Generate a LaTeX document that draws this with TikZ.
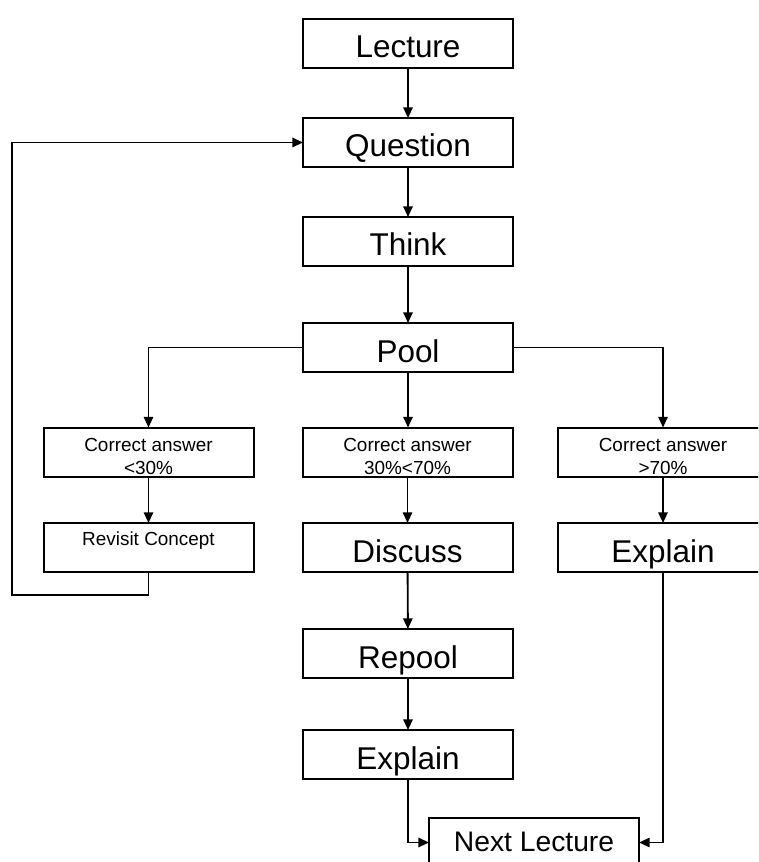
\documentclass[tikz,border=0pt]{standalone}
\usepackage{fontspec}
\setmainfont{Liberation Sans}
\usetikzlibrary{arrows.meta,calc}

\begin{document}
\begin{tikzpicture}[x=0.75pt,y=-0.75pt,
  box/.style={draw, line width=1.5pt, minimum width=157.5pt, minimum height=36.75pt,
              inner sep=0pt, outer sep=0pt},
  bigtxt/.style={font=\fontsize{23.6}{28}\selectfont, inner sep=0pt, anchor=base},
  midtxt/.style={font=\fontsize{21.2}{25}\selectfont, inner sep=0pt, anchor=base},
  smalltxt/.style={font=\fontsize{14.2}{16.7}\selectfont, inner sep=0pt, align=center},
  flow/.style={line width=1.4pt, -{Triangle[length=8pt,width=7pt]}}]

\useasboundingbox (0,0) rectangle (758,862);
\clip (0,0) rectangle (758,862);

% main column
\node[box] (lec)  at (408,43.5)  {};
\node[box] (que)  at (408,142.5) {};
\node[box] (thk)  at (408,241.5) {};
\node[box] (pool) at (408,347.5) {};

% three outcome branches
\node[box] (cl)  at (148.5,452) {};
\node[box] (cm)  at (407.5,452) {};
\node[box] (cr)  at (663,452)   {};
\node[box] (rev) at (148.5,547.5) {};
\node[box] (dis) at (407.5,547.5) {};
\node[box] (exr) at (663,547.5)   {};
\node[box] (rep) at (408,653.5) {};
\node[box] (exm) at (408,754.5) {};
\node[box] (nxt) at (534,842.5) {};

% labels
\node[bigtxt] (tlec)  at ($(lec.north)+(0,39)$)  {Lecture};
\node[bigtxt] (tque)  at ($(que.north)+(0,39)$)  {Question};
\node[bigtxt] (tthk)  at ($(thk.north)+(0,39)$)  {Think};
\node[bigtxt] (tpool) at ($(pool.north)+(0,39)$) {Pool};
\node[smalltxt, anchor=north] (tcl) at ($(cl.north)+(0,10.9)$) {Correct answer\\<30\%};
\node[smalltxt, anchor=north] (tcm) at ($(cm.north)+(0,10.9)$) {Correct answer\\30\%<70\%};
\node[smalltxt, anchor=north] (tcr) at ($(cr.north)+(0,10.9)$) {Correct answer\\>70\%};
\node[smalltxt, anchor=base] (trev) at ($(rev.north)+(0,22)$) {Revisit Concept};
\node[bigtxt] (tdis) at ($(dis.north)+(0,39)$) {Discuss};
\node[bigtxt] (texr) at ($(exr.north)+(0,39)$) {Explain};
\node[bigtxt] (trep) at ($(rep.north)+(0,39)$) {Repool};
\node[bigtxt] (texm) at ($(exm.north)+(0,39)$) {Explain};
\node[midtxt] (tnxt) at ($(nxt.north)+(0,33.7)$) {Next Lecture};

% connectors
\coordinate (loopL) at (12,595);

\draw[flow] (lec) -- (que);
\draw[flow] (que) -- (thk);
\draw[flow] (thk) -- (pool);
\draw[flow] (pool.west) -| (cl.north);
\draw[flow] (pool.south) -- (pool.south |- cm.north);
\draw[flow] (pool.east) -| (cr.north);
\draw[flow] (cl) -- (rev);
\draw[flow] (cm) -- (dis);
\draw[flow] (cr) -- (exr);
\draw[flow] (rev.south) |- (loopL) |- (que.west);
\draw[flow] (dis) -- (rep);
\draw[flow] (rep) -- (exm);
\draw[flow] (exm.south) |- (nxt.west);
\draw[flow] (exr.south) |- (nxt.east);
\end{tikzpicture}
\end{document}
